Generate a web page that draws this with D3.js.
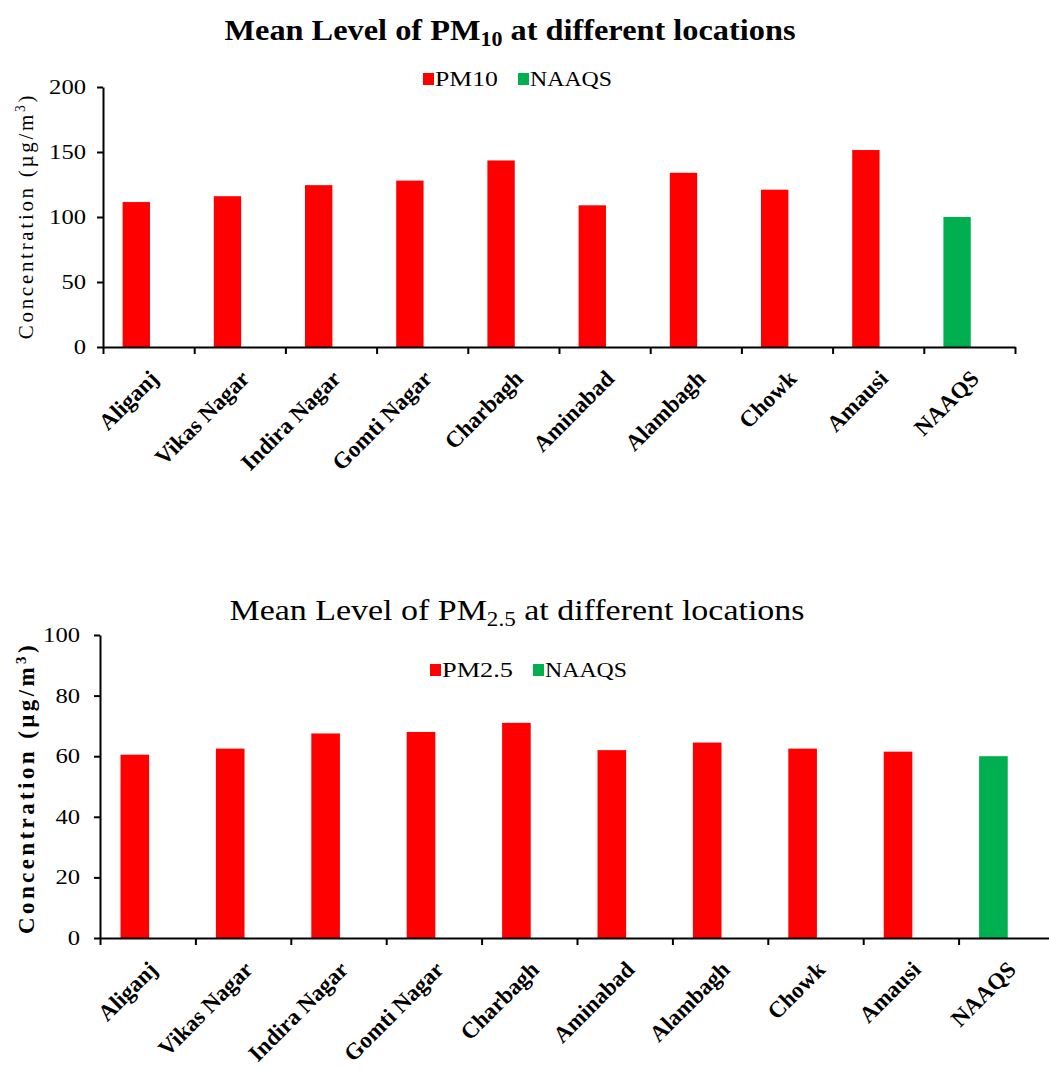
<!DOCTYPE html>
<html>
<head>
<meta charset="utf-8">
<script src="https://cdn.jsdelivr.net/npm/d3@7"></script>
<style>
  html, body { margin: 0; padding: 0; background: #fff; }
  svg { display: block; }
  text { font-family: "Liberation Serif", "Times New Roman", "DejaVu Serif", serif; fill: #000; }
</style>
</head>
<body>
<svg id="chart" width="1049" height="1070"></svg>
<script>
// ---- data ----
const locations = ["Aliganj", "Vikas Nagar", "Indira Nagar", "Gomti Nagar", "Charbagh",
                   "Aminabad", "Alambagh", "Chowk", "Amausi", "NAAQS"];
const pm10Values = [111.5, 116, 124.5, 128, 143.5, 109, 134, 121, 151.5, 100];
const pm25Values = [60.5, 62.5, 67.5, 68, 71, 62, 64.5, 62.5, 61.5, 60];
const pm10Ticks = [0, 50, 100, 150, 200];
const pm25Ticks = [0, 20, 40, 60, 80, 100];
const pm10Legend = ["PM10", "NAAQS"];
const pm25Legend = ["PM2.5", "NAAQS"];
const standardName = "NAAQS";

const RED = "#FF0000", GREEN = "#00B050";
const SERIF = '"Liberation Serif", "Times New Roman", "DejaVu Serif", serif';
const svg = d3.select("#chart");

function drawChart(cfg) {
  const g = svg.append("g");
  const x = d3.scaleBand().domain(locations).range([cfg.x0, cfg.x1]).padding(0);
  const bw = x.bandwidth();
  const y = d3.scaleLinear().domain([0, cfg.ticks[cfg.ticks.length - 1]]).range([cfg.yBottom, cfg.yTop]);

  // bars
  g.selectAll("rect.bar").data(cfg.values).enter().append("rect")
    .attr("class", "bar")
    .attr("x", (d, i) => x(locations[i]) + bw * 0.215)
    .attr("width", bw * 0.3)
    .attr("y", d => y(d))
    .attr("height", d => y(0) - y(d))
    .attr("fill", (d, i) => locations[i] === standardName ? GREEN : RED);

  // y axis
  const ya = g.append("g").attr("transform", `translate(${cfg.x0},0)`)
    .call(d3.axisLeft(y).tickValues(cfg.ticks).tickSize(6).tickSizeOuter(0));
  ya.attr("font-family", null).attr("font-size", null);
  ya.select(".domain").attr("stroke", "#000").attr("stroke-width", 2);
  ya.selectAll(".tick line").attr("stroke", "#000").attr("stroke-width", 2);
  ya.selectAll(".tick text")
    .style("font-size", "20px")
    .style("font-family", SERIF)
    .attr("text-anchor", "start")
    .attr("x", d => -(cfg.labelGap + String(d).length * 12.3))
    .attr("textLength", d => String(d).length * 12.3)
    .attr("lengthAdjust", "spacingAndGlyphs");

  // x axis: ticks at category boundaries
  const xi = d3.scaleLinear().domain([0, locations.length]).range([cfg.x0, cfg.x1]);
  const xa = g.append("g").attr("transform", `translate(0,${cfg.yBottom})`)
    .call(d3.axisBottom(xi).tickValues(d3.range(locations.length + 1)).tickFormat("").tickSize(7).tickSizeOuter(0));
  xa.select(".domain").attr("stroke", "#000").attr("stroke-width", 2);
  xa.selectAll(".tick line").attr("stroke", "#000").attr("stroke-width", 2);

  // x labels
  g.selectAll("text.xl").data(locations).enter().append("text")
    .attr("class", "xl")
    .attr("text-anchor", "end")
    .attr("transform", d => `translate(${x(d) + bw / 2 + 11},${cfg.yBottom + 33}) rotate(-45)`)
    .style("font-size", "23px").style("font-weight", "bold")
    .text(d => d);

  // y-axis title
  const yt = g.append("text")
    .attr("transform", `translate(${cfg.yTitleX},${cfg.yTitleY}) rotate(-90)`)
    .attr("text-anchor", "middle")
    .style("font-size", cfg.yTitleSize + "px")
    .style("font-weight", cfg.boldLabel ? "bold" : "normal")
    .style("letter-spacing", cfg.yTitleSpacing + "px");
  yt.append("tspan").text("Concentration (µg/m");
  yt.append("tspan").attr("dy", -8).style("font-size", (cfg.yTitleSize * 0.65) + "px").text("3");
  yt.append("tspan").attr("dy", 8).text(")");

  // title
  const tt = g.append("text")
    .attr("x", cfg.titleX).attr("y", cfg.titleY)
    .attr("text-anchor", "middle")
    .attr("textLength", cfg.titleLen)
    .attr("lengthAdjust", "spacingAndGlyphs")
    .style("font-size", cfg.titleSize + "px")
    .style("font-weight", cfg.titleBold ? "bold" : "normal");
  tt.append("tspan").text("Mean Level of PM");
  tt.append("tspan").attr("dy", 6).style("font-size", (cfg.titleSize * 0.68) + "px").text(cfg.sub);
  tt.append("tspan").attr("dy", -6).text(" at different locations");

  // legend
  const lg = g.append("g");
  cfg.legend.forEach((name, i) => {
    const lx = cfg.legendX[i];
    lg.append("rect").attr("x", lx).attr("y", cfg.legendY - 13).attr("width", 11).attr("height", 12)
      .attr("fill", i === 0 ? RED : GREEN);
    lg.append("text").attr("x", lx + 12).attr("y", cfg.legendY)
      .attr("textLength", cfg.legendLen[i])
      .attr("lengthAdjust", "spacingAndGlyphs")
      .style("font-size", "20px").text(name);
  });
}

drawChart({
  values: pm10Values, ticks: pm10Ticks, legend: pm10Legend, sub: "10",
  x0: 103, x1: 1015, yBottom: 347, yTop: 87, labelGap: 17,
  yTitleX: 33, yTitleY: 216, yTitleSize: 21, yTitleSpacing: 2.7, boldLabel: false,
  titleX: 510, titleY: 40, titleSize: 30, titleBold: true, titleLen: 571,
  legendX: [423, 518], legendY: 86, legendLen: [63, 82]
});

drawChart({
  values: pm25Values, ticks: pm25Ticks, legend: pm25Legend, sub: "2.5",
  x0: 100, x1: 1054, yBottom: 938, yTop: 635, labelGap: 20,
  yTitleX: 34, yTitleY: 788, yTitleSize: 23, yTitleSpacing: 3.4, boldLabel: true,
  titleX: 517, titleY: 620, titleSize: 30, titleBold: false, titleLen: 575,
  legendX: [430, 533], legendY: 677, legendLen: [71, 82]
});
</script>
</body>
</html>
